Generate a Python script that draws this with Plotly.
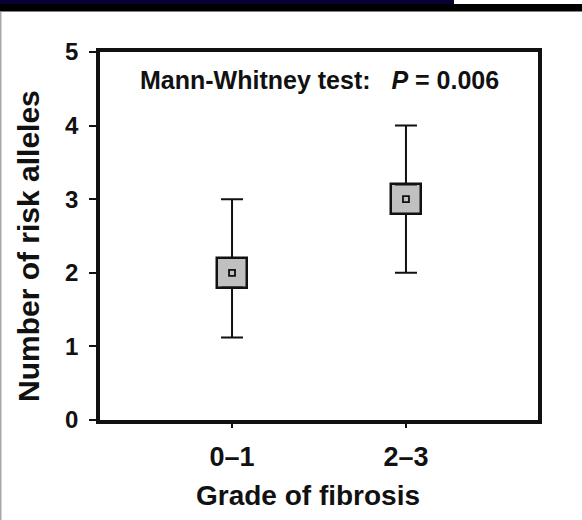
import plotly.graph_objects as go

# Data
categories = ["0\u20131", "2\u20133"]
centre = [2.0, 3.0]
box_low = [1.8, 2.8]
box_high = [2.2, 3.2]
whisker_low = [1.12, 2.0]
whisker_high = [3.0, 4.0]
y_ticks = [0, 1, 2, 3, 4, 5]
annotation_text = "Mann-Whitney test:   <i>P</i> = 0.006"
x_title = "Grade of fibrosis"
y_title = "Number of risk alleles"

W, H = 582, 520
L, R, T, B = 100, 44, 52, 100
pw, ph = W - L - R, H - T - B

def px_x(p):
    return (p - L) / pw

def px_y(p):
    return (H - B - p) / ph

FONT = "Liberation Sans, Arial, sans-serif"
xi = list(range(len(categories)))

fig = go.Figure()

# upper whiskers
fig.add_trace(go.Scatter(
    x=xi, y=box_high, mode="markers",
    marker=dict(size=1, color="rgba(0,0,0,0)"),
    error_y=dict(type="data", symmetric=False,
                 array=[h - b for h, b in zip(whisker_high, box_high)],
                 arrayminus=[0] * len(xi),
                 color="#111", thickness=2, width=11),
    hoverinfo="skip", showlegend=False))
# lower whiskers
fig.add_trace(go.Scatter(
    x=xi, y=box_low, mode="markers",
    marker=dict(size=1, color="rgba(0,0,0,0)"),
    error_y=dict(type="data", symmetric=False,
                 array=[0] * len(xi),
                 arrayminus=[b - l for b, l in zip(box_low, whisker_low)],
                 color="#111", thickness=2, width=11),
    hoverinfo="skip", showlegend=False))

# boxes
fig.add_trace(go.Bar(
    x=xi, y=[h - l for h, l in zip(box_high, box_low)], base=box_low,
    width=0.17, marker=dict(color="#c0c0c0", line=dict(color="#111", width=2.5)),
    showlegend=False))

# centre point
fig.add_trace(go.Scatter(
    x=xi, y=centre, mode="markers",
    marker=dict(symbol="square", size=6, color="#c0c0c0",
                line=dict(color="#111", width=1.8)),
    showlegend=False))

fig.add_annotation(text=annotation_text, xref="paper", yref="paper",
                   x=0.5, y=px_y(80), xanchor="center", yanchor="middle",
                   showarrow=False,
                   font=dict(family=FONT, size=25, color="#111", weight="bold"))

# axis titles
fig.add_annotation(text=x_title, xref="paper", yref="paper",
                   x=px_x(308), y=px_y(495), xanchor="center", yanchor="middle",
                   showarrow=False,
                   font=dict(family=FONT, size=28, color="#111", weight="bold"))
fig.add_annotation(text=y_title, xref="paper", yref="paper", textangle=-90,
                   x=px_x(28), y=px_y(246), xanchor="center", yanchor="middle",
                   showarrow=False,
                   font=dict(family=FONT, size=30, color="#111", weight="bold"))

# top frame bands and left border
fig.add_shape(type="rect", xref="paper", yref="paper",
              x0=px_x(0), x1=px_x(454), y0=px_y(4), y1=px_y(0),
              fillcolor="#0a0036", line=dict(width=0), layer="above")
fig.add_shape(type="rect", xref="paper", yref="paper",
              x0=px_x(0), x1=px_x(W), y0=px_y(11.5), y1=px_y(4),
              fillcolor="#000000", line=dict(width=0), layer="above")
fig.add_shape(type="rect", xref="paper", yref="paper",
              x0=px_x(0), x1=px_x(1.5), y0=px_y(H), y1=px_y(11.5),
              fillcolor="#a8a8a8", line=dict(width=0), layer="above")

fig.update_layout(
    width=W, height=H,
    margin=dict(l=L, r=R, t=T, b=B),
    paper_bgcolor="white", plot_bgcolor="white",
    font=dict(family=FONT, color="#111"),
    bargap=0,
    xaxis=dict(range=[-0.759, 1.759], tickmode="array", tickvals=xi,
               ticktext=categories, ticks="outside", ticklen=4, tickwidth=2,
               tickcolor="#111", showline=True, linewidth=3.5, linecolor="#111",
               mirror=True, showgrid=False, zeroline=False,
               ticklabelstandoff=6,
               tickfont=dict(family=FONT, size=27, weight="bold")),
    yaxis=dict(range=[0, 5], tickmode="array", tickvals=y_ticks,
               ticks="outside", ticklen=7, tickwidth=2, tickcolor="#111",
               showline=True, linewidth=3.5, linecolor="#111", mirror=True,
               showgrid=False, zeroline=False,
               ticklabelstandoff=6,
               tickfont=dict(family=FONT, size=24, weight="bold")),
)

fig.write_html("out.html")
